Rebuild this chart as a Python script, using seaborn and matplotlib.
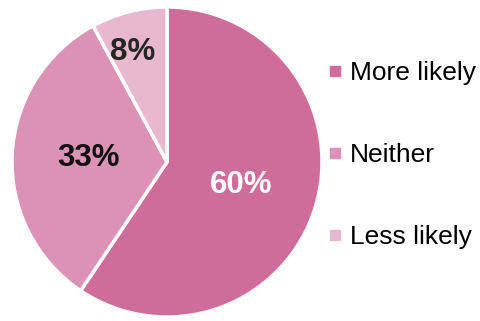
import numpy as np
import matplotlib
matplotlib.use("Agg")
import matplotlib.pyplot as plt
from matplotlib.lines import Line2D
import seaborn as sns

categories = ["More likely", "Neither", "Less likely"]
shares = [60, 33, 8]
colors = ["#D06C99", "#DB92B4", "#E8B8CF"]
label_colors = ["white", "#111111", "#262626"]
label_dist = [0.50, 0.51, 0.74]
label_angle_shift = [0, 0, 3]

sns.set_theme(style="white")
plt.rcParams["font.family"] = ["Liberation Sans", "DejaVu Sans"]

W, H = 480, 321
fig = plt.figure(figsize=(W / 100, H / 100), dpi=100)
cx, cy, r = 167, 162, 155
ax = fig.add_axes([(cx - r) / W, (H - cy - r) / H, 2 * r / W, 2 * r / H])

wedges, _ = ax.pie(shares, colors=colors, startangle=90, counterclock=False,
                   radius=1, wedgeprops=dict(edgecolor="white", linewidth=2.5))
ax.set_xlim(-1.0, 1.0)
ax.set_ylim(-1.0, 1.0)
ax.set_aspect("equal")
ax.axis("off")

for w, v, d, tc, sh in zip(wedges, shares, label_dist, label_colors, label_angle_shift):
    ang = np.deg2rad((w.theta1 + w.theta2) / 2 + sh)
    ax.text(d * np.cos(ang), d * np.sin(ang), f"{v}%", ha="center", va="center",
            fontsize=22.5, fontweight="bold", color=tc)

handles = [Line2D([0], [0], marker="s", linestyle="none", markersize=7,
                  markerfacecolor=c, markeredgecolor=c) for c in colors]
fig.legend(handles, categories, loc="center left", bbox_to_anchor=(330 / W, 1 - 155 / H),
           frameon=False, fontsize=19, handlelength=0.4, handletextpad=0.35,
           labelspacing=2.2, borderpad=0, borderaxespad=0, labelcolor="black")

fig.savefig("out.png", dpi=100)
